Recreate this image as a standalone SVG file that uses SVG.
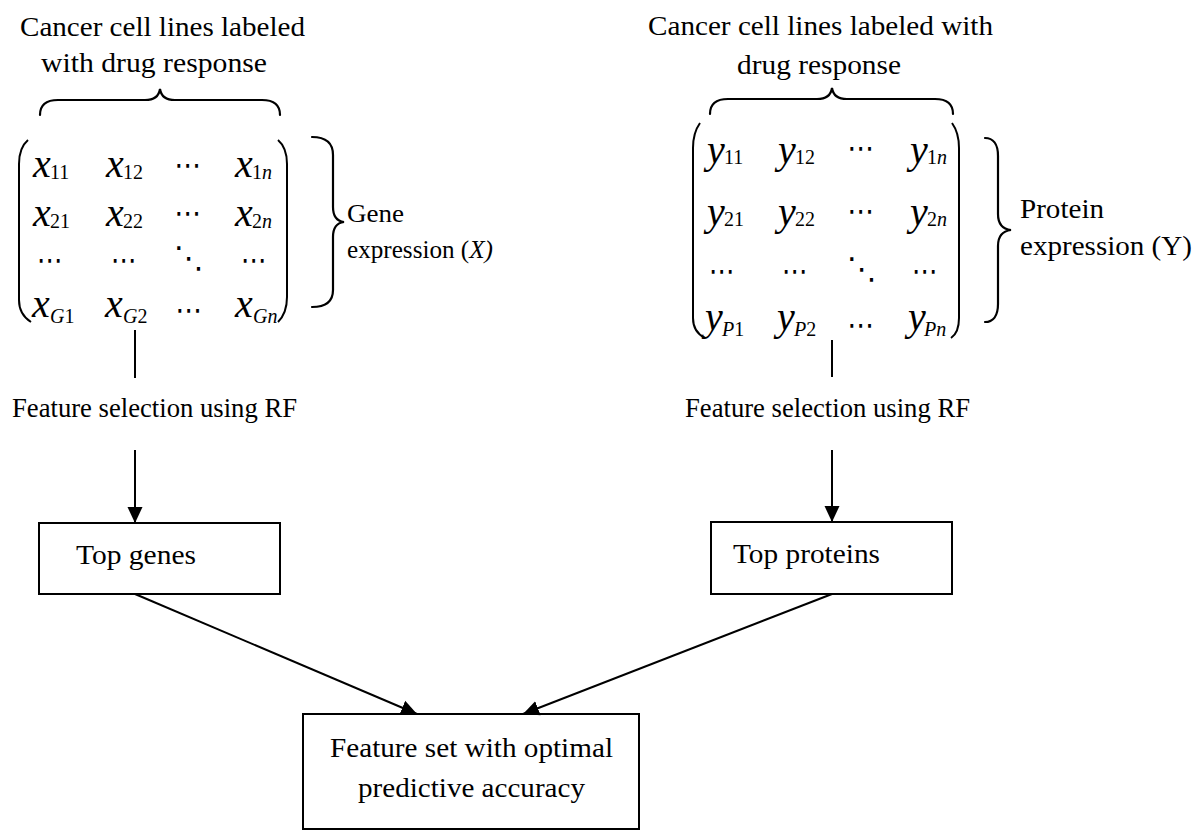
<svg xmlns="http://www.w3.org/2000/svg" width="1204" height="832" viewBox="0 0 1204 832">
  <style>
    .t { font-family: "Liberation Serif", "Times New Roman", serif; font-size: 27px; fill: #000; }
    .g { font-size: 25px; }
    .m { font-family: "Liberation Serif", "Times New Roman", serif; font-style: italic; font-size: 40px; fill: #000; }
    .s { font-size: 20px; font-style: normal; }
    .si { font-size: 20px; font-style: italic; }
    .d { font-family: "DejaVu Sans", sans-serif; font-size: 30px; fill: #000; text-anchor: middle; }
    .ln { stroke: #000; stroke-width: 2; fill: none; }
    .br { stroke: #000; stroke-width: 2.2; fill: none; stroke-linecap: round; }
    .box { stroke: #000; stroke-width: 2; fill: #fff; }
  </style>
  <defs>
    <marker id="ah" markerUnits="userSpaceOnUse" markerWidth="16" markerHeight="16" viewBox="0 0 16 16" refX="16" refY="8" orient="auto">
      <path d="M0,0.5 L16,8 L0,15.5 Z" fill="#000"/>
    </marker>
  </defs>

  <!-- cell-line header, gene side -->
  <g id="title-genes">
    <text class="t" x="20" y="36" textLength="285" lengthAdjust="spacingAndGlyphs">Cancer cell lines labeled</text>
    <text class="t" x="41" y="72" textLength="226" lengthAdjust="spacingAndGlyphs">with drug response</text>
    <path class="br" d="M40,115 C40,105 46,100 58,100 L145,100 C154,100 159,96 160,89 C161,96 166,100 175,100 L262,100 C274,100 280,105 280,115"/>
  </g>

  <!-- cell-line header, protein side -->
  <g id="title-proteins">
    <text class="t" x="648" y="35" textLength="345" lengthAdjust="spacingAndGlyphs">Cancer cell lines labeled with</text>
    <text class="t" x="737" y="74" textLength="164" lengthAdjust="spacingAndGlyphs">drug response</text>
    <path class="br" d="M710,114 C710,104 716,99 728,99 L817,99 C826,99 831,95 832,88 C833,95 838,99 847,99 L935,99 C947,99 953,104 953,114"/>
  </g>

  <!-- gene expression matrix X -->
  <g id="matrix-x">
    <path class="ln" d="M28,140 C21,146 19,154 19,164 L19,300 C19,310 23,317 31,322"/>
    <path class="ln" d="M278,140 C285,146 287,154 287,164 L287,297 C287,308 284,316 278,322"/>
    <text class="m" x="33" y="177">x<tspan class="s" x="50" dy="2">11</tspan></text>
    <text class="m" x="106" y="177">x<tspan class="s" x="123" dy="2">12</tspan></text>
    <text class="d" x="188" y="175" textLength="27" lengthAdjust="spacingAndGlyphs">⋯</text>
    <text class="m" x="235" y="177">x<tspan class="s" x="252" dy="2">1</tspan><tspan class="si">n</tspan></text>

    <text class="m" x="33" y="226">x<tspan class="s" x="50" dy="2">21</tspan></text>
    <text class="m" x="106" y="226">x<tspan class="s" x="123" dy="2">22</tspan></text>
    <text class="d" x="188" y="223" textLength="27" lengthAdjust="spacingAndGlyphs">⋯</text>
    <text class="m" x="235" y="226">x<tspan class="s" x="252" dy="2">2</tspan><tspan class="si">n</tspan></text>

    <text class="d" x="50" y="270" textLength="26" lengthAdjust="spacingAndGlyphs">⋯</text>
    <text class="d" x="124" y="270" textLength="26" lengthAdjust="spacingAndGlyphs">⋯</text>
    <text class="d" x="189" y="268">⋱</text>
    <text class="d" x="254" y="270" textLength="26" lengthAdjust="spacingAndGlyphs">⋯</text>

    <text class="m" x="32" y="317">x<tspan class="si" x="50" dy="6">G</tspan><tspan class="s">1</tspan></text>
    <text class="m" x="105" y="317">x<tspan class="si" x="123" dy="6">G</tspan><tspan class="s">2</tspan></text>
    <text class="d" x="189" y="320" textLength="27" lengthAdjust="spacingAndGlyphs">⋯</text>
    <text class="m" x="235" y="317">x<tspan class="si" x="253" dy="6">Gn</tspan></text>
  </g>

  <g id="label-gene-expression">
    <path class="br" d="M312,137 C326,137 333,143 333,155 L333,207 C333,216 336,221 344,222 C336,223 333,228 333,237 L333,290 C333,301 326,307 312,307"/>
    <text class="t g" x="347" y="222" textLength="57" lengthAdjust="spacingAndGlyphs">Gene</text>
    <text class="t g" x="347" y="258" textLength="146" lengthAdjust="spacingAndGlyphs">expression (<tspan font-style="italic">X)</tspan></text>
  </g>

  <!-- protein expression matrix Y -->
  <g id="matrix-y">
    <path class="ln" d="M700,123 C695,130 693,138 693,148 L693,318 C693,328 697,334 705,338"/>
    <path class="ln" d="M952,123 C957,130 959,138 959,148 L959,318 C959,328 957,334 951,338"/>
    <text class="m" x="707" y="163">y<tspan class="s" x="724" dy="1">11</tspan></text>
    <text class="m" x="778" y="163">y<tspan class="s" x="795" dy="1">12</tspan></text>
    <text class="d" x="861" y="158" textLength="27" lengthAdjust="spacingAndGlyphs">⋯</text>
    <text class="m" x="910" y="163">y<tspan class="s" x="927" dy="1">1</tspan><tspan class="si">n</tspan></text>

    <text class="m" x="707" y="225">y<tspan class="s" x="724" dy="1">21</tspan></text>
    <text class="m" x="778" y="225">y<tspan class="s" x="795" dy="1">22</tspan></text>
    <text class="d" x="861" y="221" textLength="27" lengthAdjust="spacingAndGlyphs">⋯</text>
    <text class="m" x="910" y="225">y<tspan class="s" x="927" dy="1">2</tspan><tspan class="si">n</tspan></text>

    <text class="d" x="722" y="281" textLength="26" lengthAdjust="spacingAndGlyphs">⋯</text>
    <text class="d" x="795" y="281" textLength="26" lengthAdjust="spacingAndGlyphs">⋯</text>
    <text class="d" x="862" y="279">⋱</text>
    <text class="d" x="925" y="281" textLength="26" lengthAdjust="spacingAndGlyphs">⋯</text>

    <text class="m" x="705" y="330">y<tspan class="si" x="722" dy="6">P</tspan><tspan class="s">1</tspan></text>
    <text class="m" x="777" y="330">y<tspan class="si" x="794" dy="6">P</tspan><tspan class="s">2</tspan></text>
    <text class="d" x="861" y="335" textLength="27" lengthAdjust="spacingAndGlyphs">⋯</text>
    <text class="m" x="908" y="330">y<tspan class="si" x="924" dy="6">Pn</tspan></text>
  </g>

  <g id="label-protein-expression">
    <path class="br" d="M985,138 C993,138 998,144 998,156 L998,214 C998,224 1002,229 1011,230 C1002,231 998,236 998,246 L998,304 C998,316 993,322 985,322"/>
    <text class="t" x="1020" y="218" textLength="84" lengthAdjust="spacingAndGlyphs">Protein</text>
    <text class="t" x="1020" y="255" textLength="172" lengthAdjust="spacingAndGlyphs">expression (Y)</text>
  </g>

  <!-- feature selection step labels -->
  <g id="label-rf-genes">
    <text class="t" x="12" y="417" textLength="285" lengthAdjust="spacingAndGlyphs">Feature selection using RF</text>
  </g>
  <g id="label-rf-proteins">
    <text class="t" x="685" y="417" textLength="285" lengthAdjust="spacingAndGlyphs">Feature selection using RF</text>
  </g>

  <!-- result boxes -->
  <g id="top-genes">
    <rect class="box" x="39" y="523" width="241" height="71"/>
    <text class="t" x="76" y="564" textLength="120" lengthAdjust="spacingAndGlyphs">Top genes</text>
  </g>
  <g id="top-proteins">
    <rect class="box" x="711" y="522" width="241" height="72"/>
    <text class="t" x="733" y="563" textLength="147" lengthAdjust="spacingAndGlyphs">Top proteins</text>
  </g>
  <g id="feature-set">
    <rect class="box" x="303" y="714" width="336" height="115"/>
    <text class="t" x="330" y="757" textLength="283" lengthAdjust="spacingAndGlyphs">Feature set with optimal</text>
    <text class="t" x="358" y="797" textLength="227" lengthAdjust="spacingAndGlyphs">predictive accuracy</text>
  </g>

  <!-- connectors -->
  <g id="connectors">
    <line class="ln" x1="135" y1="330" x2="135" y2="378"/>
    <line class="ln" x1="832" y1="340" x2="832" y2="377"/>
    <line class="ln" x1="135" y1="450" x2="135" y2="523" marker-end="url(#ah)"/>
    <line class="ln" x1="832" y1="450" x2="832" y2="522" marker-end="url(#ah)"/>
    <line class="ln" x1="135" y1="594" x2="417" y2="714" marker-end="url(#ah)"/>
    <line class="ln" x1="832" y1="594" x2="523" y2="714" marker-end="url(#ah)"/>
  </g>
</svg>
